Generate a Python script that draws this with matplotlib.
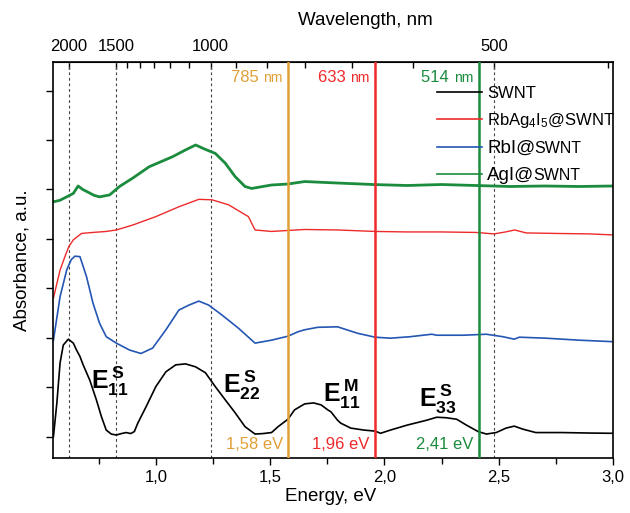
import matplotlib
matplotlib.use("Agg")
import matplotlib.pyplot as plt
import numpy as np

plt.rcParams['font.family'] = ['Liberation Sans', 'DejaVu Sans']
plt.rcParams['mathtext.fontset'] = 'custom'
plt.rcParams['mathtext.rm'] = 'Liberation Sans'
plt.rcParams['mathtext.bf'] = 'Liberation Sans:bold'
plt.rcParams['mathtext.it'] = 'Liberation Sans:italic'

# --- data (energy in eV, absorbance in arbitrary offset units) ---
swnt_e = [0.552, 0.567, 0.581, 0.595, 0.617, 0.639, 0.653, 0.668, 0.682, 0.711, 0.740, 0.762,
          0.783, 0.805, 0.827, 0.850, 0.870, 0.890, 0.906, 0.921, 0.957, 1.000, 1.044, 1.087,
          1.130, 1.174, 1.217, 1.260, 1.304, 1.347, 1.390, 1.434, 1.470, 1.506, 1.535, 1.578,
          1.607, 1.651, 1.690, 1.723, 1.752, 1.766, 1.795, 1.809, 1.853, 1.911, 1.959, 1.983,
          2.026, 2.099, 2.185, 2.229, 2.270, 2.316, 2.359, 2.410, 2.446, 2.489, 2.532, 2.568,
          2.605, 2.662, 2.778, 2.900, 3.0]
swnt_a = [0.00, 0.68, 1.49, 1.85, 1.97, 1.89, 1.75, 1.62, 1.45, 1.14, 0.74, 0.40,
          0.13, 0.05, 0.03, 0.06, 0.08, 0.06, 0.10, 0.27, 0.60, 1.01, 1.31, 1.45,
          1.47, 1.41, 1.29, 1.01, 0.74, 0.48, 0.20, 0.05, 0.06, 0.08, 0.20, 0.35,
          0.54, 0.66, 0.68, 0.64, 0.54, 0.50, 0.33, 0.27, 0.17, 0.13, 0.11, 0.065,
          0.13, 0.23, 0.33, 0.39, 0.38, 0.35, 0.23, 0.10, 0.05, 0.08, 0.17, 0.21,
          0.15, 0.08, 0.08, 0.07, 0.065]

rbag_e = [0.552, 0.581, 0.603, 0.620, 0.639, 0.675, 0.725, 0.783, 0.827, 0.899, 1.000, 1.101,
          1.188, 1.246, 1.318, 1.405, 1.434, 1.506, 1.578, 1.651, 1.795, 1.96, 2.10, 2.25,
          2.40, 2.48, 2.53, 2.57, 2.62, 2.75, 2.90, 3.0]
rbag_a = [2.80, 3.37, 3.65, 3.85, 3.98, 4.11, 4.13, 4.15, 4.18, 4.28, 4.45, 4.65,
          4.80, 4.79, 4.69, 4.45, 4.18, 4.15, 4.17, 4.19, 4.18, 4.15, 4.14, 4.14,
          4.13, 4.10, 4.14, 4.18, 4.12, 4.11, 4.10, 4.08]

rbi_e = [0.552, 0.581, 0.610, 0.630, 0.646, 0.668, 0.697, 0.725, 0.754, 0.783, 0.827, 0.885,
         0.935, 0.986, 1.044, 1.101, 1.145, 1.188, 1.231, 1.289, 1.362, 1.434, 1.506, 1.578,
         1.622, 1.651, 1.708, 1.795, 1.882, 1.959, 2.026, 2.113, 2.207, 2.229, 2.345, 2.446,
         2.518, 2.568, 2.590, 2.706, 2.850, 2.995]
rbi_a = [1.95, 2.83, 3.37, 3.58, 3.65, 3.64, 3.23, 2.70, 2.29, 2.02, 1.89, 1.75,
         1.68, 1.79, 2.16, 2.56, 2.66, 2.74, 2.66, 2.46, 2.19, 1.89, 1.95, 2.03,
         2.12, 2.16, 2.21, 2.22, 2.09, 2.01, 1.99, 2.02, 2.07, 2.05, 2.05, 2.07,
         2.02, 1.97, 2.01, 1.99, 1.95, 1.92]

agi_e = [0.552, 0.580, 0.610, 0.639, 0.660, 0.680, 0.697, 0.730, 0.754, 0.798, 0.841, 0.899,
         0.971, 1.072, 1.130, 1.174, 1.217, 1.260, 1.304, 1.347, 1.390, 1.419, 1.506, 1.578,
         1.651, 1.795, 1.95, 2.10, 2.25, 2.40, 2.55, 2.70, 2.85, 3.0]
agi_a = [4.75, 4.78, 4.85, 4.92, 5.07, 5.00, 4.96, 4.88, 4.85, 4.89, 5.06, 5.23,
         5.46, 5.66, 5.80, 5.90, 5.81, 5.73, 5.53, 5.26, 5.06, 5.02, 5.09, 5.11,
         5.16, 5.13, 5.10, 5.08, 5.10, 5.08, 5.06, 5.07, 5.06, 5.07]

series_labels = ["SWNT", r"RbAg$_4$I$_5$@SWNT", "RbI@", "AgI@"]
series_colors = ["#000000", "#EE2A2A", "#2456B4", "#1B8C3E"]

guide_nm = [2000, 1500, 1000, 500]
laser_nm = [785, 633, 514]
laser_ev = ["1,58", "1,96", "2,41"]
laser_colors = ["#E0A035", "#EE2A2A", "#1B8C3E"]

peaks = [r"$\mathbf{E}_{\mathbf{11}}^{\;\mathbf{S}}$", r"$\mathbf{E}_{\mathbf{22}}^{\;\mathbf{S}}$",
         r"$\mathbf{E}_{\mathbf{11}}^{\;\mathbf{M}}$", r"$\mathbf{E}_{\mathbf{33}}^{\;\mathbf{S}}$"]
peak_x = [0.718, 1.295, 1.733, 2.153]
peak_y = [0.96, 0.88, 0.70, 0.60]

e_ticks = [1.0, 1.5, 2.0, 2.5, 3.0]
e_ticklabels = ["1,0", "1,5", "2,0", "2,5", "3,0"]

fig = plt.figure(figsize=(6.3, 5.13), dpi=100)
ax = fig.add_axes([0.0841, 0.1072, 0.8889, 0.772])

for e in guide_nm:
    ax.axvline(1240 / e, color="#444444", lw=0.8, ls=(0, (2.5, 2.5)), zorder=1)

for nm, ev, c in zip(laser_nm, laser_ev, laser_colors):
    x = 1240 / nm
    ax.axvline(x, color=c, lw=1.8, zorder=3)
    t = ax.annotate("nm", xy=(x, 0.949), xycoords=("data", "axes fraction"),
                    xytext=(-4, 0), textcoords="offset points",
                    ha="right", va="baseline", fontsize=10, color=c)
    ax.annotate(str(nm) + " ", xy=(0, 0), xycoords=t, ha="right", va="bottom",
                fontsize=12, color=c)
    ax.annotate(ev + " eV", xy=(x, 0.022), xycoords=("data", "axes fraction"),
                xytext=(-4, 0), textcoords="offset points",
                ha="right", va="baseline", fontsize=12, color=c)

lines = []
for xs, ys, c, lw in zip([swnt_e, rbag_e, rbi_e, agi_e], [swnt_a, rbag_a, rbi_a, agi_a],
                         series_colors, [1.2, 1.0, 1.2, 2.0]):
    l, = ax.plot(xs, ys, color=c, lw=lw, zorder=2)
    lines.append(l)

for s, x, y in zip(peaks, peak_x, peak_y):
    ax.text(x, y, s, fontsize=18, ha="left", va="baseline")

leg = ax.legend(lines, series_labels, loc="upper left", bbox_to_anchor=(0.686, 0.94),
                frameon=False, fontsize=12, handlelength=2.7, handletextpad=0.3,
                borderpad=0, borderaxespad=0, labelspacing=0.6)
for l in leg.get_lines():
    l.set_linewidth(1.2)
texts = leg.get_texts()
for t in texts[2:]:
    t.set_fontsize(13.5)

ax.set_xlim(0.55, 3.0)
ax.set_ylim(-0.435, 7.58)
ax.set_xticks(e_ticks)
ax.set_xticklabels(e_ticklabels)
ax.set_xticks(np.arange(0.75, 3.0, 0.5), minor=True)
ax.set_yticks(range(8))
ax.set_yticklabels([])
ax.tick_params(axis="x", which="both", direction="out", labelsize=12, length=5, width=1)
ax.tick_params(axis="x", which="minor", length=4)
ax.tick_params(axis="y", direction="out", length=5, width=1)
for sp in ax.spines.values():
    sp.set_linewidth(1.2)

ax.set_xlabel("Energy, eV", fontsize=13.5)
ax.xaxis.set_label_coords(0.495, -0.075)
ax.set_ylabel("Absorbance, a.u.", fontsize=13.5)
ax.yaxis.set_label_coords(-0.04, 0.5)

top = ax.secondary_xaxis("top", functions=(lambda e: 1240 / e, lambda l: 1240 / l))
top.set_xticks(guide_nm)
top.set_xticklabels([str(v) for v in guide_nm])
top.set_xticks([500 + k * 500 / 6 for k in range(-1, 12)], minor=True)
top.tick_params(which="both", direction="in", labelsize=12, width=1, pad=6)
top.tick_params(which="major", length=5)
top.tick_params(which="minor", length=4)
ax.text(0.557, 1.083, "Wavelength, nm", transform=ax.transAxes, ha="center",
        va="bottom", fontsize=13.5)

# small "SWNT" after the larger "RbI@" / "AgI@" legend labels
fig.canvas.draw()
r = fig.canvas.get_renderer()
inv = ax.transAxes.inverted()
for t in texts[2:]:
    bb = t.get_window_extent(r)
    px, py = inv.transform((bb.x1 - 1.5, bb.y0 + 1))
    ax.text(px, py, "SWNT", transform=ax.transAxes, ha="left", va="bottom", fontsize=11.5)

fig.savefig("out.png", dpi=100)
